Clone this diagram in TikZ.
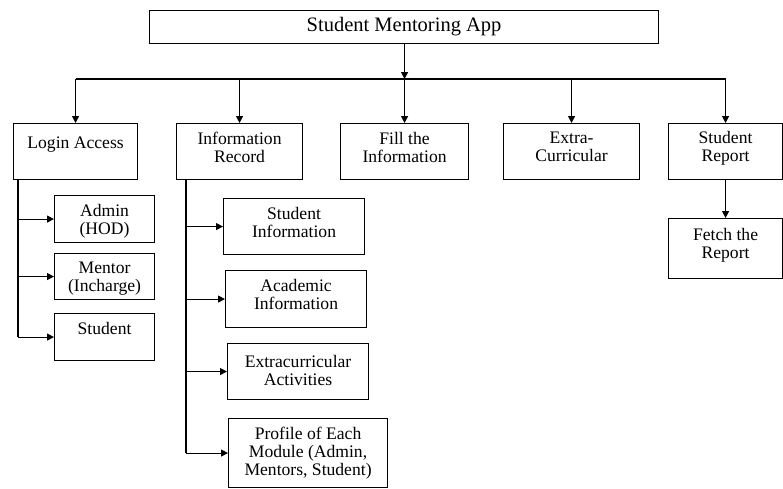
\documentclass[tikz,border=0pt]{standalone}
\usepackage{fontspec}
\setmainfont{Liberation Serif}
\usetikzlibrary{arrows.meta,calc}
\tikzstyle{box}=[draw, line width=1.1pt, anchor=north west, inner sep=0pt]
\tikzstyle{boxtext}=[anchor=north, align=center, inner sep=0pt, yshift=-9pt, font=\fontsize{17.6}{17.8}\selectfont]
\tikzstyle{wire}=[line width=1.1pt]
\tikzstyle{arr}=[line width=1.1pt, -{Triangle[length=7pt,width=7pt]}]

\begin{document}
\begin{tikzpicture}[x=1pt,y=-1pt]
\useasboundingbox (0,0) rectangle (783,488);
% top
\node[box, minimum width=509pt, minimum height=33pt, font=\fontsize{20.5}{22}\selectfont] (app) at (149,10) {Student Mentoring App};
% first row
\node[box, minimum width=124pt, minimum height=56pt, label={[boxtext,yshift=-5pt]north:Login Access}] (login) at (13,123) {};
\node[box, minimum width=126pt, minimum height=56pt, label={[boxtext]north:Information\\Record}] (info) at (176,123) {};
\node[box, minimum width=128pt, minimum height=56pt, label={[boxtext]north:Fill the\\Information}] (fill) at (340,123) {};
\node[box, minimum width=136pt, minimum height=56pt, label={[boxtext]north:Extra-\\Curricular}] (extra) at (503,123) {};
\node[box, minimum width=114pt, minimum height=56pt, label={[boxtext,yshift=1pt]north:Student\\Report}] (report) at (668,123) {};
% login access
\node[box, minimum width=100pt, minimum height=47pt, label={[boxtext]north:Admin\\(HOD)}] (admin) at (54,195) {};
\node[box, minimum width=100pt, minimum height=46pt, label={[boxtext]north:Mentor\\(Incharge)}] (mentor) at (54,253) {};
\node[box, minimum width=100pt, minimum height=47pt, label={[boxtext]north:Student}] (student) at (54,313) {};
% information record
\node[box, minimum width=141pt, minimum height=56pt, label={[boxtext]north:Student\\Information}] (sinfo) at (223,198) {};
\node[box, minimum width=141pt, minimum height=57pt, label={[boxtext]north:Academic\\Information}] (acad) at (225,270) {};
\node[box, minimum width=141pt, minimum height=56pt, label={[boxtext,yshift=-3pt]north:Extracurricular\\Activities}] (extrac) at (227,343) {};
\node[box, minimum width=159pt, minimum height=69pt, label={[boxtext]north:Profile of Each\\Module (Admin,\\Mentors, Student)}] (profile) at (228,418) {};
% student report
\node[box, minimum width=114pt, minimum height=60pt, label={[boxtext,yshift=-1pt]north:Fetch the\\Report}] (fetch) at (668,218) {};

\coordinate (bus) at (0,79);
\draw[arr] (app.south -| fill.north) -- (bus -| fill.north);
\draw[wire] (bus -| login.north) -- (bus -| report.north);
\foreach \n in {login,info,fill,extra,report}
  \draw[arr] (bus -| \n.north) -- (\n.north);

\coordinate (ltrunk) at ($(login.south west)+(5,0)$);
\draw[wire] (ltrunk) -- (ltrunk |- student.west);
\foreach \n in {admin,mentor,student}
  \draw[arr] (ltrunk |- \n.west) -- (\n.west);

\coordinate (itrunk) at ($(info.south west)+(10,0)$);
\draw[wire] (itrunk) -- (itrunk |- profile.west);
\foreach \n in {sinfo,acad,extrac,profile}
  \draw[arr] (itrunk |- \n.west) -- (\n.west);

\draw[arr] (report.south) -- (fetch.north);
\end{tikzpicture}
\end{document}
